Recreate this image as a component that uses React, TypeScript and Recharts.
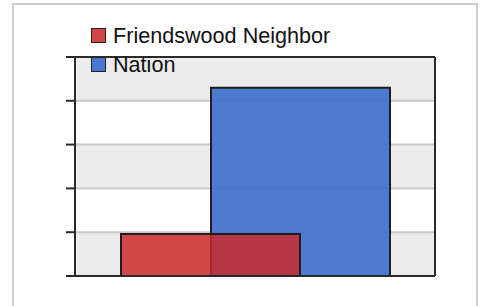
import { Bar, BarChart, CartesianGrid, Legend, XAxis, YAxis } from 'recharts';

const categories = [''];
const neighborValues = [4.8];
const nationValues = [21.5];
const yTicks = [0, 5, 10, 15, 20, 25];

const seriesNames = ['Friendswood Neighbor', 'Nation'];
const seriesColors = ['#cd282b', '#4474d0'];
const swatchColors = ['#d24648', '#4a78d0'];

const data = categories.map((c, i) => ({
  name: c,
  neighbor: neighborValues[i],
  nation: nationValues[i],
}));

function LegendBox() {
  return (
    <div style={{ fontFamily: '"Liberation Sans", Arial, sans-serif' }}>
      {seriesNames.map((n, i) => (
        <div
          key={n}
          style={{ display: 'flex', alignItems: 'center', height: 29, color: '#111', fontSize: 21.6 }}
        >
          <span
            style={{
              display: 'inline-block',
              boxSizing: 'border-box',
              width: 15,
              height: 15,
              border: '1.5px solid #222',
              background: swatchColors[i],
              marginRight: 7,
            }}
          />
          <span style={{ lineHeight: '29px' }}>{n}</span>
        </div>
      ))}
    </div>
  );
}

function App() {
  const axisColor = '#2a2a2a';
  return (
    <div style={{ position: 'absolute', left: 0, top: 0, width: 482, height: 306, overflow: 'hidden', background: '#fff' }}>
      <div
        style={{
          position: 'absolute',
          left: 12,
          top: 3,
          width: 462,
          height: 320,
          border: '2px solid #cccccc',
        }}
      />
      <div style={{ position: 'absolute', left: 0, top: 0 }}>
        <BarChart
          width={482}
          height={306}
          data={data}
          margin={{ top: 56, right: 46, bottom: 29, left: 74 }}
          barGap={-269}
          barSize={179}
        >
          <CartesianGrid
            vertical={false}
            stroke="#c8c8c8"
            strokeWidth={2}
            fill="none"
            horizontalFill={['#ececec', '#ffffff']}
          />
          <XAxis dataKey="name" height={1} tick={false} tickLine={false} axisLine={{ stroke: axisColor, strokeWidth: 2 }} />
          <XAxis xAxisId="top" dataKey="name" orientation="top" height={1} tick={false} tickLine={false} axisLine={{ stroke: axisColor, strokeWidth: 2 }} />
          <YAxis
            domain={[0, 25]}
            ticks={yTicks}
            width={1}
            tickSize={9}
            tickFormatter={() => ''}
            tickLine={{ stroke: axisColor, strokeWidth: 2 }}
            axisLine={{ stroke: axisColor, strokeWidth: 2 }}
          />
          <YAxis
            yAxisId="right"
            orientation="right"
            domain={[0, 25]}
            width={1}
            tick={false}
            tickLine={false}
            axisLine={{ stroke: axisColor, strokeWidth: 2 }}
          />
          <Bar dataKey="nation" fill={seriesColors[1]} fillOpacity={0.95} stroke="#1e1e1e" strokeWidth={2} isAnimationActive={false} />
          <Bar dataKey="neighbor" fill={seriesColors[0]} fillOpacity={0.84} stroke="#1e1e1e" strokeWidth={2} isAnimationActive={false} />
          <Legend
            layout="vertical"
            align="center"
            verticalAlign="middle"
            content={() => <LegendBox />}
            wrapperStyle={{ position: 'absolute', left: 91, top: 21, width: 300 }}
          />
        </BarChart>
      </div>
    </div>
  );
}

export default App;
